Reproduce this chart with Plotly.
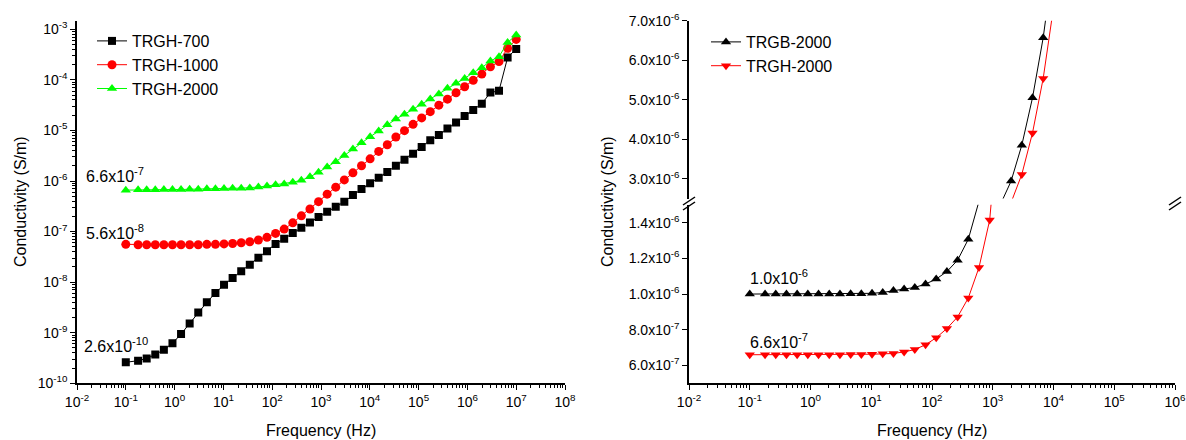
import plotly.graph_objects as go

# ---------------- data ----------------
freq = [0.1, 0.1786, 0.2679, 0.4019, 0.6028, 0.9042, 1.356, 2.035, 3.052, 4.578,
        6.867, 10.30, 15.45, 23.18, 34.76, 52.15, 78.22, 117.3, 176.0, 264.0,
        396.0, 594.0, 891.0, 1337, 2005, 3007, 4511, 6767, 10150, 15220,
        22840, 34250, 51380, 77070, 115600, 173400, 260100, 390200, 585300, 877900,
        1317000, 1975000, 2963000, 4444000, 6667000, 10000000]

trgh700 = [2.6e-10, 2.8e-10, 3.1e-10, 3.7e-10, 4.6e-10, 6.2e-10, 9.4e-10, 1.53e-9, 2.5e-9, 4.0e-9,
           6.1e-9, 8.9e-9, 1.21e-8, 1.64e-8, 2.21e-8, 3.05e-8, 4.07e-8, 5.68e-8, 7.23e-8, 9.38e-8,
           1.19e-7, 1.52e-7, 1.94e-7, 2.47e-7, 3.1e-7, 3.9e-7, 5.28e-7, 6.95e-7, 9.0e-7, 1.16e-6,
           1.51e-6, 2.01e-6, 2.64e-6, 3.47e-6, 4.7e-6, 6.4e-6, 8.1e-6, 1.09e-5, 1.44e-5, 1.93e-5,
           2.55e-5, 3.38e-5, 5.6e-5, 6.1e-5, 2.77e-4, 4.1e-4]

trgh1000 = [5.6e-8, 5.5e-8, 5.5e-8, 5.5e-8, 5.5e-8, 5.5e-8, 5.5e-8, 5.5e-8, 5.5e-8, 5.6e-8,
            5.6e-8, 5.7e-8, 5.8e-8, 6.0e-8, 6.3e-8, 6.8e-8, 7.7e-8, 9.2e-8, 1.12e-7, 1.49e-7,
            2.05e-7, 2.8e-7, 3.9e-7, 5.5e-7, 7.55e-7, 1.05e-6, 1.45e-6, 2.0e-6, 2.74e-6, 3.85e-6,
            5.2e-6, 7.4e-6, 9.9e-6, 1.32e-5, 1.77e-5, 2.35e-5, 3.16e-5, 4.16e-5, 5.55e-5, 7.3e-5,
            9.8e-5, 1.3e-4, 1.81e-4, 2.3e-4, 4.2e-4, 6.3e-4]

trgh2000 = [6.6e-7, 6.7e-7, 6.7e-7, 6.7e-7, 6.8e-7, 6.8e-7, 6.8e-7, 6.9e-7, 6.9e-7, 7.0e-7,
            7.0e-7, 7.1e-7, 7.2e-7, 7.2e-7, 7.3e-7, 7.6e-7, 7.96e-7, 8.4e-7, 8.7e-7, 9.5e-7,
            1.03e-6, 1.21e-6, 1.49e-6, 1.9e-6, 2.41e-6, 3.2e-6, 4.3e-6, 5.73e-6, 7.5e-6, 9.7e-6,
            1.3e-5, 1.68e-5, 2.08e-5, 2.62e-5, 3.29e-5, 4.19e-5, 5.26e-5, 6.8e-5, 8.55e-5, 1.07e-4,
            1.39e-4, 1.74e-4, 2.36e-4, 2.88e-4, 5.5e-4, 7.7e-4]

freq_r = freq[:29]
trgb2000_r = [1.0e-6, 1.0e-6, 1.0e-6, 1.0e-6, 1.0e-6, 1.0e-6, 1.0e-6, 1.0e-6, 1.0e-6, 1.002e-6,
              1.002e-6, 1.004e-6, 1.009e-6, 1.02e-6, 1.028e-6, 1.037e-6, 1.056e-6, 1.084e-6, 1.126e-6, 1.19e-6,
              1.307e-6, 1.52e-6, 1.9e-6, 2.35e-6, 2.94e-6, 3.85e-6, 5.05e-6, 6.57e-6, 8.6e-6]
trgh2000_r = [6.6e-7, 6.6e-7, 6.6e-7, 6.6e-7, 6.6e-7, 6.6e-7, 6.6e-7, 6.6e-7, 6.6e-7, 6.62e-7,
              6.62e-7, 6.63e-7, 6.65e-7, 6.67e-7, 6.76e-7, 6.89e-7, 7.16e-7, 7.55e-7, 8.07e-7, 8.72e-7,
              9.78e-7, 1.149e-6, 1.415e-6, 1.9e-6, 2.4e-6, 3.11e-6, 4.16e-6, 5.54e-6, 7.4e-6]

left_names = ["TRGH-700", "TRGH-1000", "TRGH-2000"]
right_names = ["TRGB-2000", "TRGH-2000"]

x_left_ticks = [1e-2, 1e-1, 1e0, 1e1, 1e2, 1e3, 1e4, 1e5, 1e6, 1e7, 1e8]
x_left_text = ["10<sup>-2</sup>", "10<sup>-1</sup>", "10<sup>0</sup>", "10<sup>1</sup>", "10<sup>2</sup>",
               "10<sup>3</sup>", "10<sup>4</sup>", "10<sup>5</sup>", "10<sup>6</sup>", "10<sup>7</sup>", "10<sup>8</sup>"]
x_right_ticks = x_left_ticks[:9]
x_right_text = x_left_text[:9]
y_left_ticks = [1e-10, 1e-9, 1e-8, 1e-7, 1e-6, 1e-5, 1e-4, 1e-3]
y_left_text = ["10<sup>-10</sup>", "10<sup>-9</sup>", "10<sup>-8</sup>", "10<sup>-7</sup>",
               "10<sup>-6</sup>", "10<sup>-5</sup>", "10<sup>-4</sup>", "10<sup>-3</sup>"]
y_low_ticks = [6e-7, 8e-7, 1.0e-6, 1.2e-6, 1.4e-6]
y_low_text = ["6.0x10<sup>-7</sup>", "8.0x10<sup>-7</sup>", "1.0x10<sup>-6</sup>", "1.2x10<sup>-6</sup>", "1.4x10<sup>-6</sup>"]
y_up_ticks = [3e-6, 4e-6, 5e-6, 6e-6, 7e-6]
y_up_text = ["3.0x10<sup>-6</sup>", "4.0x10<sup>-6</sup>", "5.0x10<sup>-6</sup>", "6.0x10<sup>-6</sup>", "7.0x10<sup>-6</sup>"]

# ---------------- layout helpers ----------------
W, H = 1186, 440
FONT = "Arial, Liberation Sans, sans-serif"


def fx(px):
    return px / W


def fy(py):
    return (H - py) / H


L_X = [fx(77), fx(565)]
R_X = [fx(689), fx(1175)]
L_Y = [fy(383.3), fy(20.7)]
R_LOW = [fy(383.3), fy(204.8)]
R_UP = [fy(198.5), fy(20.7)]

fig = go.Figure()

# left plot
styles_left = [
    dict(color="black", symbol="square", size=8),
    dict(color="red", symbol="circle", size=9),
    dict(color="#00FF00", symbol="triangle-up", size=9),
]
for name, vals, st in zip(left_names, [trgh700, trgh1000, trgh2000], styles_left):
    fig.add_trace(go.Scatter(
        x=freq, y=vals, name=name, mode="lines+markers",
        line=dict(color=st["color"], width=1),
        marker=dict(color=st["color"], symbol=st["symbol"], size=st["size"]),
        xaxis="x", yaxis="y", legend="legend"))

# right plot (broken axis: lower y2, upper y3)
styles_right = [
    dict(color="black", symbol="triangle-up", size=9),
    dict(color="red", symbol="triangle-down", size=9),
]
for name, vals, st in zip(right_names, [trgb2000_r, trgh2000_r], styles_right):
    for ya, show in (("y2", True), ("y3", False)):
        fig.add_trace(go.Scatter(
            x=freq_r, y=vals, name=name, mode="lines+markers",
            line=dict(color=st["color"], width=1),
            marker=dict(color=st["color"], symbol=st["symbol"], size=st["size"]),
            xaxis="x2", yaxis=ya, legend="legend2", showlegend=show, legendgroup=name))

tickfont = dict(family=FONT, size=14, color="black")
common = dict(showgrid=False, zeroline=False, showline=True, linecolor="black", linewidth=1.5,
              tickcolor="black", tickwidth=1, ticklen=5, tickfont=tickfont, automargin=False,
              ticklabeloverflow="allow")

logx_minor_out = dict(ticks="outside", ticklen=3, tickcolor="black", dtick="D1", showgrid=False)
logx_minor_in = dict(ticks="inside", ticklen=3, tickcolor="black", dtick="D1", showgrid=False)

XR_RIGHT = [-2, 6.00001]

fig.update_layout(
    width=W, height=H,
    margin=dict(l=0, r=0, t=0, b=0),
    paper_bgcolor="white", plot_bgcolor="white",
    font=dict(family=FONT, color="black"),
    # left
    xaxis=dict(common, type="log", range=[-2, 8], domain=L_X, anchor="y", ticks="outside",
               tickvals=x_left_ticks, ticktext=x_left_text, minor=logx_minor_out),
    yaxis=dict(common, type="log", range=[-10, -2.83], domain=L_Y, anchor="x", ticks="outside",
               tickvals=y_left_ticks, ticktext=y_left_text, minor=logx_minor_out),
    xaxis3=dict(common, type="log", range=[-2, 8], overlaying="x", anchor="y", side="top",
                ticks="inside", tickvals=x_left_ticks, showticklabels=False, minor=logx_minor_in),
    yaxis4=dict(common, type="log", range=[-10, -2.83], overlaying="y", anchor="x", side="right",
                ticks="inside", tickvals=y_left_ticks, showticklabels=False, minor=logx_minor_in),
    # right
    xaxis2=dict(common, type="log", range=XR_RIGHT, domain=R_X, anchor="y2", ticks="outside",
                tickvals=x_right_ticks, ticktext=x_right_text, minor=logx_minor_out),
    yaxis2=dict(common, range=[5e-7, 1.5e-6], domain=R_LOW, anchor="x2", ticks="outside",
                tickvals=y_low_ticks, ticktext=y_low_text),
    yaxis3=dict(common, range=[2.5e-6, 7e-6], domain=R_UP, anchor="x2", ticks="outside",
                tickvals=y_up_ticks, ticktext=y_up_text),
    xaxis4=dict(common, type="log", range=XR_RIGHT, overlaying="x2", anchor="y3", side="top",
                ticks="inside", tickvals=x_right_ticks, showticklabels=False, minor=logx_minor_in),
    yaxis5=dict(common, range=[5e-7, 1.5e-6], overlaying="y2", anchor="x2", side="right",
                ticks="inside", tickvals=y_low_ticks, showticklabels=False),
    yaxis6=dict(common, range=[2.5e-6, 7e-6], overlaying="y3", anchor="x2", side="right",
                ticks="inside", tickvals=y_up_ticks, showticklabels=False),
    legend=dict(x=fx(92), y=fy(24), xanchor="left", yanchor="top", bgcolor="rgba(0,0,0,0)",
                font=dict(family=FONT, size=16, color="black"), itemwidth=30, tracegroupgap=0),
    legend2=dict(x=fx(706), y=fy(25), xanchor="left", yanchor="top", bgcolor="rgba(0,0,0,0)",
                 font=dict(family=FONT, size=16, color="black"), itemwidth=30, tracegroupgap=0),
    showlegend=True,
)

ann_font = dict(family=FONT, size=16, color="black")
annotations = [
    dict(text="6.6x10<sup>-7</sup>", x=fx(84), y=fy(175), xanchor="left", yanchor="middle"),
    dict(text="5.6x10<sup>-8</sup>", x=fx(84), y=fy(232), xanchor="left", yanchor="middle"),
    dict(text="2.6x10<sup>-10</sup>", x=fx(82), y=fy(345), xanchor="left", yanchor="middle"),
    dict(text="1.0x10<sup>-6</sup>", x=fx(748), y=fy(277), xanchor="left", yanchor="middle"),
    dict(text="6.6x10<sup>-7</sup>", x=fx(748), y=fy(341), xanchor="left", yanchor="middle"),
    dict(text="Frequency (Hz)", x=fx(321), y=fy(430), xanchor="center", yanchor="middle"),
    dict(text="Frequency (Hz)", x=fx(932), y=fy(430), xanchor="center", yanchor="middle"),
    dict(text="Conductivity (S/m)", x=fx(20), y=fy(202), xanchor="center", yanchor="middle", textangle=-90),
    dict(text="Conductivity (S/m)", x=fx(607), y=fy(202), xanchor="center", yanchor="middle", textangle=-90),
]
for a in annotations:
    a.update(xref="paper", yref="paper", showarrow=False, font=ann_font)
fig.update_layout(annotations=annotations)

# axis-break marks
shapes = []
for bx in (689, 1175):
    for dy in (0, 5):
        shapes.append(dict(type="line", xref="paper", yref="paper",
                           x0=fx(bx - 6), y0=fy(205 + dy), x1=fx(bx + 6), y1=fy(197 + dy),
                           line=dict(color="black", width=1.5)))
fig.update_layout(shapes=shapes)

fig.write_html("out.html", config={"displayModeBar": False},
               post_script="document.body.style.margin='0';document.body.style.padding='0';")
